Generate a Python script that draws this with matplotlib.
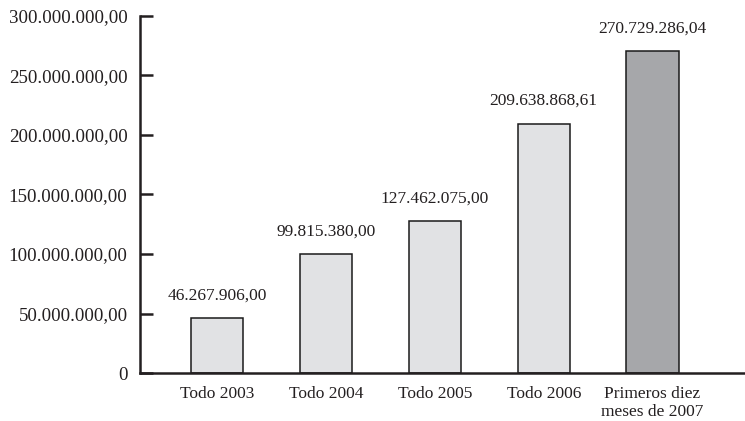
import matplotlib
matplotlib.use("Agg")
import matplotlib.pyplot as plt
from matplotlib.ticker import FuncFormatter

categories = ["Todo 2003", "Todo 2004", "Todo 2005", "Todo 2006", "Primeros diez\nmeses de 2007"]
values = [46267906.00, 99815380.00, 127462075.00, 209638868.61, 270729286.04]
bar_colors = ["#e1e2e4", "#e1e2e4", "#e1e2e4", "#e1e2e4", "#a6a7aa"]
yticks = [0, 50e6, 100e6, 150e6, 200e6, 250e6, 300e6]


def fmt_es(v):
    s = f"{v:,.2f}"
    return s.replace(",", "X").replace(".", ",").replace("X", ".")


plt.rcParams["font.family"] = ["Liberation Serif", "DejaVu Serif"]

fig = plt.figure(figsize=(7.45, 4.21), dpi=100)
ax = fig.add_axes([140 / 745, 1 - 373 / 421, 1 - 140 / 745, (373 - 16) / 421])

x = list(range(len(categories)))
bars = ax.bar(x, values, width=0.48, color=bar_colors, edgecolor="#1a1a1a", linewidth=1.1, zorder=2)

for xi, v in zip(x, values):
    ax.annotate(fmt_es(v), (xi, v), xytext=(0, 10.5), textcoords="offset points",
                ha="center", va="bottom", fontsize=12.5, color="#231f20")

ax.set_xlim(-0.71, 4.85)
ax.set_ylim(0, 300e6)
ax.set_yticks(yticks)
ax.yaxis.set_major_formatter(FuncFormatter(lambda v, p: "0" if v == 0 else fmt_es(v)))
ax.set_xticks(x)
ax.set_xticklabels(categories)

for s in ["top", "right"]:
    ax.spines[s].set_visible(False)
for s in ["left", "bottom"]:
    ax.spines[s].set_linewidth(1.8)
    ax.spines[s].set_color("#231f20")

ax.tick_params(axis="y", direction="in", length=9, width=1.8, pad=9,
               labelsize=13.6, colors="#231f20")
ax.tick_params(axis="x", length=0, pad=9, labelsize=12.5, colors="#231f20")

fig.savefig("out.png", dpi=100)
